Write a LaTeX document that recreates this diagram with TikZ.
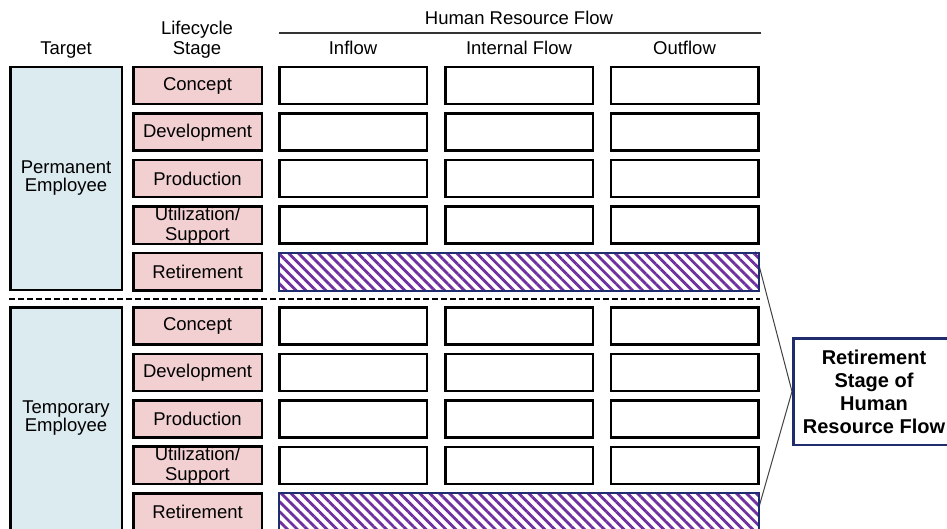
\documentclass[tikz,border=0pt]{standalone}
\usepackage{fontspec}
\setmainfont{Liberation Sans}
\usepackage{tikz}
\usetikzlibrary{positioning, patterns.meta, backgrounds}
\tikzset{every node/.style={font=\fontsize{18.5}{20}\selectfont}}
\usepackage{xcolor}
\definecolor{stagepink}{HTML}{F2D0D2}
\definecolor{targetblue}{HTML}{DCEBF0}
\definecolor{navy}{HTML}{1F2C6E}
\definecolor{hatchpurple}{HTML}{7030A0}

\begin{document}
\begin{tikzpicture}[x=1pt, y=-1pt,
    targetbox/.style={draw, line width=2.5pt, fill=targetblue, minimum width=111.5pt, minimum height=222.5pt, inner sep=0pt, align=center, font=\fontsize{18.5}{18}\selectfont},
    stagebox/.style={draw, line width=2.5pt, fill=stagepink, minimum width=128.5pt, minimum height=37pt, inner sep=0pt, align=center},
    flowbox/.style={draw, line width=2.5pt, fill=white, minimum width=147.5pt, minimum height=37pt},
    retbar/.style={draw=navy, line width=2pt, preaction={fill=white}, pattern={Lines[angle=-45, distance=7pt, line width=2.8pt]}, pattern color=hatchpurple, minimum width=480pt, minimum height=37.5pt},
    callbox/.style={draw=navy, line width=2.5pt, fill=white, minimum width=161.5pt, minimum height=106.5pt, inner sep=0pt, align=center, font=\bfseries\fontsize{20}{23}\selectfont}]
  \useasboundingbox (0,0) rectangle (947,529);

  % column headers
  \node[anchor=base] (target) at (66,54.5) {Target};
  \node[align=center] (stage) at (197,40) {Lifecycle\\Stage};
  \node[anchor=base] (hrf) at (519,25) {Human Resource Flow};
  \draw[line width=1.2pt, black!80] (279,33) -- (761,33);
  \foreach \txt/\x/\n in {Inflow/353/in, Internal Flow/519/int, Outflow/684.5/out}
    \node[anchor=base] (h\n) at (\x,54.5) {\txt};

  % targets
  \node[targetbox] (perm) at (66,178.5) {Permanent\\Employee};
  \node[targetbox] (temp) at (66,418.5) {Temporary\\Employee};

  % stages, flow boxes and retirement bars
  \foreach \g/\y in {1/85.75, 2/325.75} {
    \foreach \lab [count=\r from 0] in {Concept, Development, Production, {Utilization/\\Support}, Retirement}
      \node[stagebox] (s\g-\r) at (197.5, \y+46.5*\r) {\lab};
    \foreach \r in {0,...,3}
      \foreach \x [count=\c] in {353, 519, 684.5}
        \node[flowbox] (f\g-\r-\c) at (\x, \y+46.5*\r) {};
    \node[retbar] (ret\g) at (519, \y+186) {};
  }

  \draw[line width=2.5pt, dash pattern=on 6pt off 3pt] (9,299) -- (760,299);

  % callout
  \node[callbox] (call) at (874,391.5) {Retirement\\Stage of\\Human\\Resource Flow};
  \begin{scope}[on background layer]
    \draw[line width=1pt, black!75] ([xshift=-5pt]ret1.north east) -- (call.west);
    \draw[line width=1pt, black!75] ([xshift=-8pt]ret2.south east) -- (call.west);
  \end{scope}
\end{tikzpicture}
\end{document}
